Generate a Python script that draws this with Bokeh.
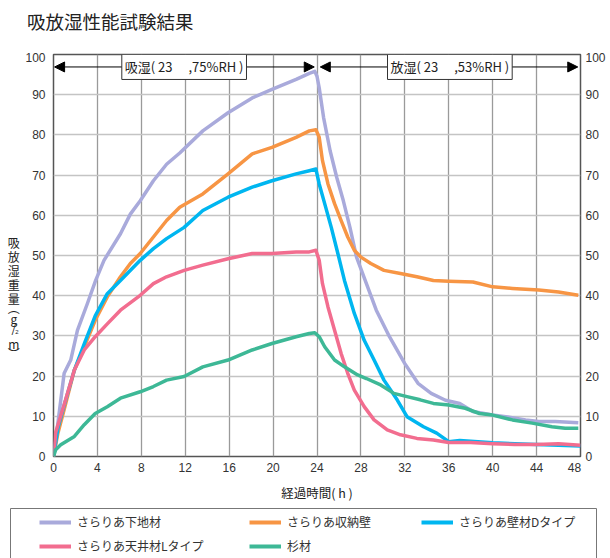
from bokeh.plotting import figure
from bokeh.models import (Range1d, LinearAxis, FixedTicker, Label, Arrow, NormalHead,
                          Legend, LegendItem)
from bokeh.layouts import column, row
from bokeh.embed import file_html
from bokeh.resources import INLINE

# ---------------- data ----------------
title_text = "吸放湿性能試験結果"
x_title = "経過時間( h )"
y_title_chars = ["吸", "放", "湿", "重", "量", "︵", "g", "/", "m", "︶"]
x_ticks = list(range(0, 49, 4))
y_ticks = list(range(0, 101, 10))

series_names = ["さらりあ下地材", "さらりあ収納壁", "さらりあ壁材Dタイプ",
                "さらりあ天井材Lタイプ", "杉材"]
series_colors = ["#a9aadb", "#f79544", "#00b6f0", "#f26d8f", "#3db896"]

h_shitaji = [0, 0.36, 0.97, 1.57, 2.18, 3.08, 3.84, 4.6, 6.1, 7.0, 7.9, 9.1, 10.3, 11.5,
             13.6, 15.9, 18.1, 19.9, 22.1, 23.3, 23.8, 24.0, 24.2, 24.6, 25.2, 25.8,
             26.4, 27.0, 27.6, 28.5, 29.4, 30.6, 32.0, 33.2, 34.4, 35.7, 37.0, 38.2,
             40.0, 41.2, 43.0, 44.2, 45.7, 47.8]
v_shitaji = [0, 7.4, 20.7, 24.0, 31.4, 38.0, 43.8, 48.8, 55.4, 60.3, 63.6, 68.6, 72.7, 75.5,
             81.0, 85.5, 89.2, 91.3, 93.8, 95.3, 95.8, 94.6, 91.7, 84.3, 76.0, 69.4,
             63.6, 57.0, 49.6, 43.0, 36.4, 29.8, 23.1, 18.2, 15.7, 14.0, 13.2, 11.2,
             10.3, 9.9, 9.1, 8.7, 8.7, 8.4]

h_shuno = [0, 0.4, 1.0, 1.9, 2.8, 3.8, 4.9, 6.1, 7.0, 7.9, 9.1, 10.3, 11.5, 13.6, 15.9,
           18.1, 19.9, 22.1, 23.3, 23.9, 24.2, 24.5, 25.0, 25.6, 26.2, 26.8, 27.4, 28.0,
           28.9, 30.1, 31.6, 33.1, 34.6, 36.0, 38.2, 40.0, 41.8, 44.2, 46.0, 47.8]
v_shuno = [0, 5.8, 12.0, 21.5, 27.3, 33.9, 39.7, 44.7, 48.0, 50.5, 54.6, 58.7, 62.0, 65.3,
           70.3, 75.3, 76.9, 79.4, 81.0, 81.3, 79.4, 73.6, 67.8, 62.9, 58.7, 54.6, 51.3,
           49.6, 48.0, 46.3, 45.5, 44.7, 43.8, 43.6, 43.4, 42.2, 41.8, 41.4, 40.9, 40.1]

h_kabe = [0, 0.4, 1.0, 1.9, 2.8, 3.8, 4.9, 6.1, 7.9, 9.1, 10.3, 11.9, 13.6, 15.9, 18.1,
          19.9, 22.1, 23.3, 23.9, 24.2, 24.7, 25.3, 25.9, 26.5, 27.4, 28.3, 29.2, 30.1,
          31.3, 32.2, 33.7, 34.9, 36.0, 37.0, 40.0, 44.0, 48.0]
v_kabe = [0, 7.0, 13.0, 21.5, 28.0, 35.0, 40.5, 43.8, 48.8, 51.7, 54.2, 57.0, 61.2, 64.5,
          67.0, 68.6, 70.3, 71.1, 71.5, 67.8, 62.9, 57.0, 50.5, 43.8, 35.6, 28.9, 24.0,
          19.0, 14.1, 9.9, 7.4, 5.8, 3.7, 4.0, 3.4, 3.0, 2.6]

h_tenjo = [0, 0.2, 1.0, 1.9, 2.8, 3.8, 4.9, 6.1, 7.9, 9.1, 10.3, 11.9, 13.6, 15.9, 18.1,
           19.9, 22.1, 23.3, 23.9, 24.2, 24.5, 25.0, 25.6, 26.2, 26.8, 27.4, 28.3, 29.2,
           30.4, 31.6, 33.1, 34.6, 36.0, 38.0, 40.0, 42.0, 44.0, 46.0, 48.0]
v_tenjo = [0, 6.0, 13.2, 21.5, 26.5, 29.8, 33.0, 36.4, 40.1, 43.0, 44.7, 46.3, 47.6, 49.2,
           50.5, 50.5, 50.9, 50.9, 51.3, 48.8, 43.0, 37.2, 31.4, 25.6, 20.7, 16.5, 12.4,
           9.1, 6.6, 5.4, 4.5, 4.1, 3.5, 3.5, 3.2, 3.0, 3.0, 3.2, 2.8]

h_sugi = [0, 0.2, 0.66, 1.9, 2.8, 3.8, 4.9, 6.1, 7.9, 9.1, 10.3, 11.9, 13.6, 15.9, 18.1,
          19.9, 22.1, 23.3, 23.8, 24.2, 24.7, 25.6, 26.5, 27.7, 28.5, 29.8, 31.0, 32.2,
          33.4, 34.6, 36.0, 37.5, 38.8, 40.0, 41.8, 43.6, 45.4, 46.6, 47.8]
v_sugi = [0, 1.7, 2.9, 5.0, 7.9, 10.7, 12.4, 14.5, 16.1, 17.4, 19.0, 19.9, 22.3, 24.0,
          26.5, 28.1, 29.8, 30.6, 30.8, 29.8, 27.3, 24.0, 22.3, 20.3, 19.4, 17.8, 15.7,
          14.9, 14.1, 13.2, 12.8, 12.0, 10.7, 10.3, 9.1, 8.3, 7.4, 7.0, 7.0]

series_h = [h_shitaji, h_shuno, h_kabe, h_tenjo, h_sugi]
series_v = [v_shitaji, v_shuno, v_kabe, v_tenjo, v_sugi]

phase_labels = ["吸湿( 23\u3000 ,75%RH )", "放湿( 23\u3000 ,53%RH )"]
phase_centers = [11.9, 36.1]
phase_spans = [(0.1, 23.75), (24.3, 47.75)]
phase_y = 96.9

JP = "Noto Sans CJK JP"
NUM = "Liberation Sans"
TXT = "#222222"


def blank_fig(w, h):
    f = figure(width=w, height=h, x_range=Range1d(0, w), y_range=Range1d(h, 0),
               output_backend="svg", toolbar_location=None, min_border=0,
               x_axis_type=None, y_axis_type=None, frame_align=False)
    f.outline_line_color = None
    f.grid.visible = False
    return f


# ---------------- header (title) ----------------
hdr = blank_fig(608, 52)
hdr.add_layout(Label(x=26.5, y=20.5, text=title_text, text_align="left",
                     text_baseline="middle", text_font=JP, text_font_size="18.5px",
                     text_color=TXT))

# ---------------- y-axis title (upright vertical text) ----------------
ylab = blank_fig(22, 452)
y_char_pos = [189.7, 203.9, 218.0, 232.2, 245.5, 255.0, 266.0, 274.7, 291.0, 301.0]
for ch, yy in zip(y_title_chars, y_char_pos):
    ylab.add_layout(Label(x=13.3, y=yy, text=ch, text_align="center",
                          text_baseline="middle", text_font=JP, text_font_size="12px",
                          text_color=TXT))
ylab.add_layout(Label(x=16.5, y=279.5, text="2", text_align="center",
                      text_baseline="middle", text_font=NUM, text_font_size="6px",
                      text_color=TXT))

# ---------------- main figure ----------------
p = figure(width=586, height=452, x_range=Range1d(0, 48), y_range=Range1d(0, 100),
           output_backend="svg", toolbar_location=None, frame_align=False,
           min_border_left=30, min_border_right=26, min_border_top=2, min_border_bottom=47)
p.outline_line_color = "#555555"
p.outline_line_width = 1.5

p.xaxis.ticker = FixedTicker(ticks=x_ticks)
p.xaxis.major_label_overrides = {48: "48\u2003"}
p.yaxis.ticker = FixedTicker(ticks=y_ticks)
right_axis = LinearAxis(ticker=FixedTicker(ticks=y_ticks))
p.add_layout(right_axis, "right")

for ax in [p.xaxis[0], p.yaxis[0], right_axis]:
    ax.axis_line_color = None
    ax.major_tick_line_color = None
    ax.minor_tick_line_color = None
    ax.major_tick_out = 0
    ax.major_tick_in = 0
    ax.minor_tick_out = 0
    ax.major_label_text_font = NUM
    ax.major_label_text_font_size = "12px"
    ax.major_label_text_color = "#333333"
p.xaxis.major_label_standoff = 4
p.yaxis.major_label_standoff = 8
right_axis.major_label_standoff = 5

p.xaxis.axis_label = x_title
p.xaxis.axis_label_text_font = JP
p.xaxis.axis_label_text_font_size = "12.5px"
p.xaxis.axis_label_text_font_style = "normal"
p.xaxis.axis_label_text_color = TXT
p.xaxis.axis_label_standoff = 5

p.xgrid.grid_line_color = "#9a9a9a"
p.xgrid.grid_line_width = 1.3
p.ygrid.grid_line_color = "#c4c4c4"
p.ygrid.grid_line_width = 1.5

for hs, vs, c in zip(series_h, series_v, series_colors):
    p.line(hs, vs, line_width=3.5, line_color=c, line_join="round")

for (xs, xe), cx, txt in zip(phase_spans, phase_centers, phase_labels):
    p.add_layout(Arrow(x_start=xs, y_start=phase_y, x_end=xe, y_end=phase_y,
                       line_color="black", line_width=1,
                       start=NormalHead(size=10, fill_color="black", line_color="black"),
                       end=NormalHead(size=10, fill_color="black", line_color="black")))
    p.add_layout(Label(x=cx, y=phase_y, text=txt, text_align="center",
                       text_baseline="middle", text_font=JP, text_font_size="13px",
                       text_color=TXT, background_fill_color="white",
                       border_line_color="#333333", border_line_width=1, padding=3))

# ---------------- legend box ----------------
leg = blank_fig(608, 54)
leg.quad(left=[10], right=[596], top=[4], bottom=[90], fill_color=None,
         line_color="#777777", line_width=1)

leg_pos = [(39, 28), (249, 28), (421, 28), (39, 4), (249, 4)]
for name, c, pos in zip(series_names, series_colors, leg_pos):
    dummy = leg.line(x=[-20, -10], y=[-20, -20], line_width=4, line_color=c)
    lg = Legend(items=[LegendItem(label=name, renderers=[dummy])], location=pos,
                padding=0, margin=0, spacing=0, glyph_width=32, glyph_height=16,
                label_height=16, label_standoff=6, border_line_color=None,
                background_fill_alpha=0, label_text_font=JP,
                label_text_font_size="12px", label_text_color="#333333")
    leg.add_layout(lg)

layout = column(hdr, row(ylab, p, spacing=0), leg, spacing=0)
open("out.html", "w").write(file_html(layout, INLINE))
